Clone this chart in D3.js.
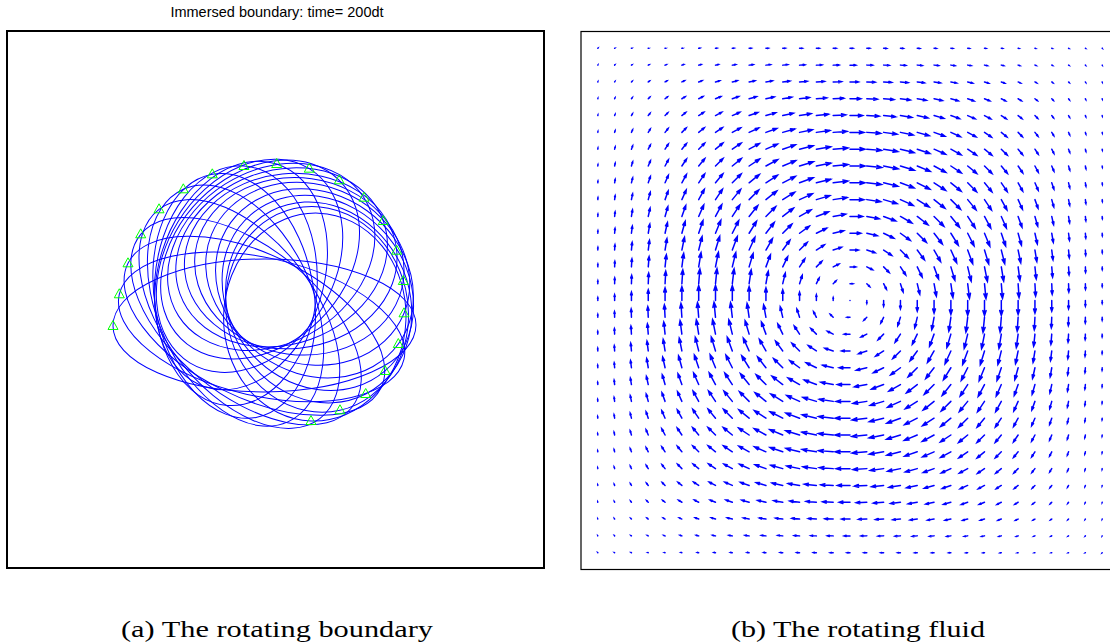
<!DOCTYPE html>
<html lang="en">
<head>
<meta charset="UTF-8">
<title>Rotating boundary and fluid</title>
<script src="https://cdnjs.cloudflare.com/ajax/libs/d3/7.8.5/d3.min.js"></script>
<style>
  body { margin: 0; background: #fff; }
  svg { display: block; }
</style>
</head>
<body>
<div id="container"></div>
<script>
/*------------------- data -------------------*/
// left panel: one snapshot of the immersed boundary every 10dt, time 0 .. 200dt
// marker = tracked boundary point (green triangle), at the end of the major axis
const markerX = [0.1974, 0.2091, 0.2253, 0.2490, 0.2831, 0.3283, 0.3823, 0.4413, 0.5022, 0.5629, 0.6188,
                 0.6648, 0.7007, 0.7257, 0.7380, 0.7393, 0.7287, 0.7039, 0.6680, 0.6201, 0.5661]
const markerY = [0.4507, 0.5097, 0.5674, 0.6214, 0.6680, 0.7052, 0.7331, 0.7486, 0.7523, 0.7436, 0.7220,
                 0.6896, 0.6462, 0.5909, 0.5345, 0.4743, 0.4171, 0.3669, 0.3240, 0.2937, 0.2737]
const semiMajor = [0.2821, 0.2719, 0.2626, 0.2542, 0.2458, 0.2374, 0.2300, 0.2235, 0.2179, 0.2123, 0.2086,
                   0.2048, 0.2011, 0.1983, 0.1955, 0.1937, 0.1927, 0.1918, 0.1918, 0.1927, 0.1937]
const semiMinor = [0.1238, 0.1285, 0.1331, 0.1369, 0.1412, 0.1449, 0.1482, 0.1514, 0.1538, 0.1564, 0.1583,
                   0.1603, 0.1618, 0.1631, 0.1646, 0.1661, 0.1669, 0.1676, 0.1683, 0.1691, 0.1698]
// direction (deg, counter-clockwise) from ellipse centre to the marker
const tilt = [180.2, 167.1, 153.7, 140.5, 127.5, 114.2, 100.2, 86.1, 72.3, 58.4, 45.0,
              32.5, 19.7, 5.6, -8.0, -22.3, -35.9, -49.3, -62.8, -77.2, -92.1]

// right panel: 31 x 31 velocity grid, separable profiles
const gridPos = d3.range(1, 32).map(i => i / 32)
// weight across the flow (0 at the walls, 1 in the middle)
const profileWall = [0.010, 0.038, 0.084, 0.146, 0.222, 0.309, 0.403, 0.500, 0.598, 0.691, 0.778,
                     0.854, 0.916, 0.962, 0.990, 1.000, 0.990, 0.962, 0.916, 0.854, 0.778, 0.691,
                     0.598, 0.500, 0.403, 0.309, 0.222, 0.146, 0.084, 0.038, 0.010]
// shear along the flow (changes sign through the vortex centre)
const profileShear = [0.195, 0.383, 0.556, 0.707, 0.831, 0.924, 0.981, 1.000, 0.981, 0.924, 0.831,
                      0.707, 0.556, 0.383, 0.195, 0.000, -0.195, -0.383, -0.556, -0.707, -0.831, -0.924,
                      -0.981, -1.000, -0.981, -0.924, -0.831, -0.707, -0.556, -0.383, -0.195]

const titleText = "Immersed boundary: time= 200dt"
const captions = ["(a) The rotating boundary", "(b) The rotating fluid"]
const captionWidth = [312, 254]

/*------------------- layout -------------------*/
const W = 1110, H = 643
const svg = d3.select("#container").append("svg")
    .attr("width", W).attr("height", H)

// left axes
const xL = d3.scaleLinear().domain([0, 1]).range([7, 544])
const yL = d3.scaleLinear().domain([0, 1]).range([568, 31])
// right axes (right edge runs past the page)
const xR = d3.scaleLinear().domain([0, 1]).range([581, 1119])
const yR = d3.scaleLinear().domain([0, 1]).range([569.5, 31.5])

/*------------------- left: boundary snapshots -------------------*/
const snaps = markerX.map((mx, k) => {
    const t = tilt[k] * Math.PI / 180
    return {
        mx: mx, my: markerY[k],
        cx: mx - semiMajor[k] * Math.cos(t),
        cy: markerY[k] - semiMajor[k] * Math.sin(t),
        a: semiMajor[k], b: semiMinor[k], tilt: tilt[k]
    }
})
const left = svg.append("g")
left.selectAll("ellipse")
    .data(snaps)
    .join("ellipse")
    .attr("cx", d => xL(d.cx))
    .attr("cy", d => yL(d.cy))
    .attr("rx", d => xL(d.a) - xL(0))
    .attr("ry", d => xL(d.b) - xL(0))
    .attr("transform", d => `rotate(${-d.tilt},${xL(d.cx)},${yL(d.cy)})`)
    .attr("fill", "none")
    .attr("stroke", "#0000ff")
    .attr("stroke-width", 1)

left.selectAll("path.marker")
    .data(snaps)
    .join("path")
    .attr("class", "marker")
    .attr("d", "M0,-5.5L5,3.5L-5,3.5Z")
    .attr("transform", d => `translate(${xL(d.mx)},${yL(d.my)})`)
    .attr("fill", "none")
    .attr("stroke", "#00ff00")
    .attr("stroke-width", 1)

left.append("rect")
    .attr("x", xL(0)).attr("y", yL(1))
    .attr("width", xL(1) - xL(0)).attr("height", yL(0) - yL(1))
    .attr("fill", "none").attr("stroke", "#000").attr("stroke-width", 2)

svg.append("text")
    .attr("x", 277).attr("y", 17)
    .attr("text-anchor", "middle")
    .style("font-family", "'Liberation Sans', Arial, sans-serif")
    .style("font-size", "14.5px")
    .text(titleText)

/*------------------- right: quiver -------------------*/
const vectors = []
gridPos.forEach((gx, i) => {
    gridPos.forEach((gy, j) => {
        vectors.push({
            x: gx, y: gy,
            u: -profileWall[i] * profileShear[j],
            v: profileShear[i] * profileWall[j]
        })
    })
})
// autoscale like quiver: longest arrow ~0.9 of a grid cell
const maxLen = d3.max(vectors, d => Math.hypot(d.u, d.v))
const k = 0.9 * (1 / 32) / maxLen
const alpha = 0.33, beta = 0.33

const right = svg.append("g")
right.selectAll("path")
    .data(vectors)
    .join("path")
    .attr("d", d => {
        const u = d.u * k, v = d.v * k
        const tx = d.x + u, ty = d.y + v
        const p = d3.path()
        p.moveTo(xR(d.x), yR(d.y))
        p.lineTo(xR(tx), yR(ty))
        p.moveTo(xR(tx - alpha * (u + beta * v)), yR(ty - alpha * (v - beta * u)))
        p.lineTo(xR(tx), yR(ty))
        p.lineTo(xR(tx - alpha * (u - beta * v)), yR(ty - alpha * (v + beta * u)))
        return p.toString()
    })
    .attr("fill", "none")
    .attr("stroke", "#0000ff")
    .attr("stroke-width", 1.5)
    .attr("stroke-linecap", "round")

right.append("rect")
    .attr("x", xR(0)).attr("y", yR(1))
    .attr("width", xR(1) - xR(0)).attr("height", yR(0) - yR(1))
    .attr("fill", "none").attr("stroke", "#000").attr("stroke-width", 1.2)

/*------------------- captions -------------------*/
svg.selectAll("text.caption")
    .data(captions)
    .join("text")
    .attr("class", "caption")
    .attr("x", (d, i) => i === 0 ? 277 : 858)
    .attr("y", 637)
    .attr("text-anchor", "middle")
    .attr("textLength", (d, i) => captionWidth[i])
    .attr("lengthAdjust", "spacingAndGlyphs")
    .style("font-family", "'Liberation Serif', 'Times New Roman', serif")
    .style("font-size", "24px")
    .text(d => d)
</script>
</body>
</html>
